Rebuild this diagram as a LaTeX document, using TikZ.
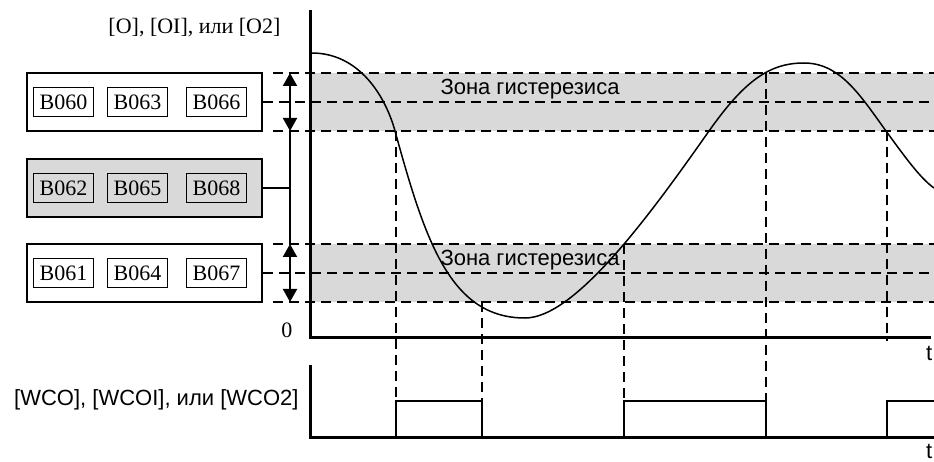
\documentclass[tikz,border=0pt]{standalone}
\usepackage{fontspec}
\setmainfont{Liberation Serif}
\setsansfont{Liberation Sans}
\usetikzlibrary{arrows.meta, positioning}
\definecolor{zonegray}{HTML}{D9D9D9}

\begin{document}
\begin{tikzpicture}[
    x=1pt, y=-1pt,
    font=\fontsize{22}{26}\selectfont,
    axisline/.style={line width=3pt},
    grpbox/.style={draw,line width=2pt,minimum width=235pt,minimum height=58pt,inner sep=0pt},
    parbox/.style={draw,line width=1.8pt,minimum width=60pt,minimum height=29pt,inner sep=0pt},
    dashline/.style={line width=2pt,dash pattern=on 10pt off 6pt},
    dimarrow/.style={line width=2pt,{Triangle[width=14pt,length=13pt]}-{Triangle[width=14pt,length=13pt]}},
    pulseline/.style={line width=2.6pt},
    zonelabel/.style={font=\sffamily\fontsize{22}{26}\selectfont},
  ]
    \useasboundingbox (0,0) rectangle (934,462);

    % hysteresis zones
    \fill[zonegray] (310,73) rectangle (934,131);
    \fill[zonegray] (310,244) rectangle (934,302);

    % parameter groups
    \node[grpbox,fill=white] (grpA) at (144.5,102) {};
    \node[grpbox,fill=zonegray] (grpB) at (144.5,188) {};
    \node[grpbox,fill=white] (grpC) at (144.5,273) {};
    \foreach \x/\a/\b/\c in {63.5/B060/B062/B061, 137.5/B063/B065/B064, 216.5/B066/B068/B067} {
      \node[parbox,fill=white] (\a) at (\x,102) {\a};
      \node[parbox,fill=zonegray] (\b) at (\x,188) {\b};
      \node[parbox,fill=white] (\c) at (\x,273) {\c};
    }

    % threshold levels
    \foreach \y in {73,131,244,302}
      \draw[dashline] (273,\y) -- (934,\y);
    \draw[dashline] (grpA.east) -- (934,102);
    \draw[dashline] (grpC.east) -- (934,273);

    \coordinate (a1) at (290,73);
    \coordinate (a2) at (290,131);
    \coordinate (a3) at (290,244);
    \coordinate (a4) at (290,302);
    \draw[dimarrow] (a1) -- (a2);
    \draw[line width=2pt] (a2) -- (a3);
    \draw[dimarrow] (a3) -- (a4);
    \draw[line width=2pt] (grpB.east) -- (grpB.east -| a2);

    % input axes
    \coordinate (origin) at (310,337);
    \draw[axisline] (310,10) -- (origin) -- (931,337);
    \node[left=14pt of origin,yshift=7pt] (zero) {0};
    \node[anchor=east] (inlbl) at (284,28) {[O], [OI], или [O2]};
    \node[zonelabel,anchor=west,inner sep=0pt] (tUp) at (926,353) {t};

    \node[zonelabel] (zoneUp) at (530,89) {Зона гистерезиса};
    \node[zonelabel] (zoneLo) at (530,260) {Зона гистерезиса};

    % analog input
    \draw[line width=1.5pt] (310,53)
      .. controls (360,52) and (386,98) .. (395,131)
      .. controls (425,240) and (450,318) .. (525,318)
      .. controls (575,318) and (650,215) .. (709,131)
      .. controls (745,80) and (770,63) .. (804,63)
      .. controls (840,63) and (860,95) .. (886,131)
      .. controls (905,157) and (920,178) .. (934,188);

    % switching instants
    \coordinate (c1) at (396,131);
    \coordinate (c2) at (482,302);
    \coordinate (c3) at (624,244);
    \coordinate (c4) at (766,73);
    \coordinate (c5) at (887,131);
    \coordinate (p1) at (396,401);
    \coordinate (p2) at (482,401);
    \coordinate (p3) at (624,401);
    \coordinate (p4) at (766,401);
    \coordinate (p5) at (887,401);
    \foreach \i in {1,...,4}
      \draw[dashline] (c\i) -- (p\i);
    \draw[dashline] (c5) -- (887,341);

    % output
    \coordinate (origin2) at (310,437);
    \draw[axisline] (310,365) -- (origin2) -- (934,437);
    \draw[pulseline] (origin2) -- (p1 |- origin2) -- (p1) -- (p2) -- (p2 |- origin2)
      -- (p3 |- origin2) -- (p3) -- (p4) -- (p4 |- origin2) -- (p5 |- origin2)
      -- (p5) -- (934,401);
    \node[zonelabel,anchor=east] (outlbl) at (302,400) {[WCO], [WCOI], или [WCO2]};
    \node[zonelabel,anchor=west,inner sep=0pt] (tLo) at (926,451) {t};
\end{tikzpicture}
\end{document}
